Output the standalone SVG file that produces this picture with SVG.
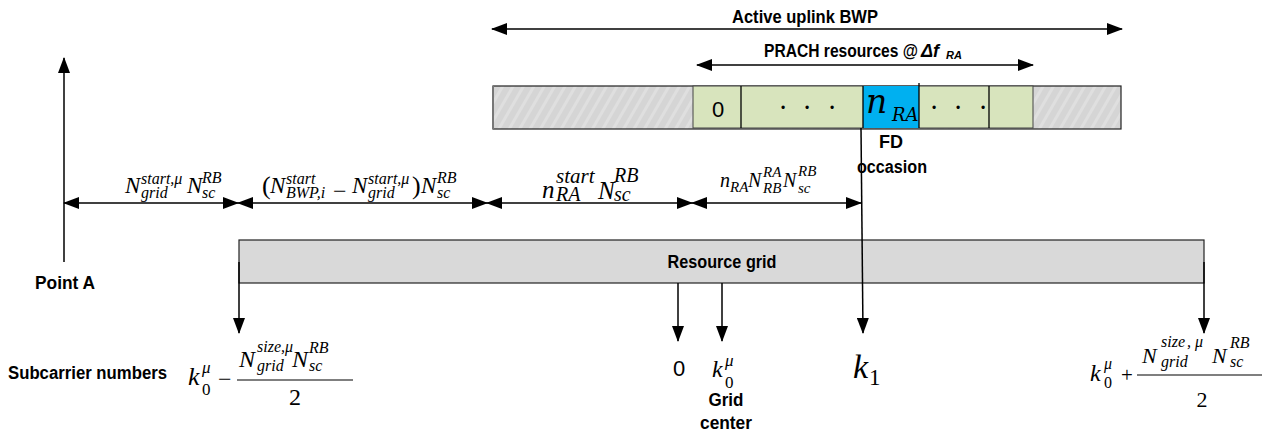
<svg xmlns="http://www.w3.org/2000/svg" width="1273" height="438" viewBox="0 0 1273 438">
<style>
.lbl{font-family:"Liberation Sans",Arial,sans-serif;font-weight:bold;font-size:18px;fill:#000}
.num{font-family:"Liberation Sans",Arial,sans-serif;font-size:22px;fill:#000}
.dot{font-family:"Liberation Sans",Arial,sans-serif;font-size:12px;fill:#000}
.mi{font-family:"Liberation Serif","Times New Roman",serif;font-style:italic;fill:#000}
.mu{font-family:"Liberation Serif","Times New Roman",serif;font-style:normal;fill:#000}
.cm{font-family:"DejaVu Serif",serif;font-style:italic;fill:#000}
.ln{stroke:#000;stroke-width:1.3;fill:none}
.dbl{stroke:#000;stroke-width:1.5;fill:none;marker-start:url(#ah);marker-end:url(#ah)}
.one{stroke:#000;stroke-width:1.5;fill:none;marker-end:url(#ah)}
.frac{stroke:#555;stroke-width:1.5}
</style>
<defs>
<marker id="ah" viewBox="0 0 16 12" refX="15" refY="6" markerWidth="16" markerHeight="12" markerUnits="userSpaceOnUse" orient="auto-start-reverse">
<path d="M0,0 L16,6 L0,12 z" fill="#000"/>
</marker>
<pattern id="hatch" width="9" height="9" patternUnits="userSpaceOnUse" patternTransform="rotate(30)">
<rect width="9" height="9" fill="#d5d5d5"/>
<rect width="3" height="9" fill="#dfdfdf"/>
</pattern>
</defs>

<g id="bwp-bar">
<rect x="493" y="86" width="628" height="43" fill="url(#hatch)" stroke="#222" stroke-width="1.2"/>
<line x1="493" y1="86" x2="493" y2="129" stroke="#777" stroke-width="2"/>
</g>

<g id="prach-resources">
<rect x="693" y="86" width="340" height="42" fill="#d8e4bd" stroke="#444" stroke-width="1"/>
<rect x="863" y="86" width="56" height="42" fill="#00b0f0"/>
<line x1="741" y1="86" x2="741" y2="128" class="ln"/>
<line x1="863" y1="86" x2="863" y2="128" class="ln"/>
<line x1="919" y1="83" x2="919" y2="128" class="ln"/>
<line x1="989" y1="86" x2="989" y2="128" class="ln"/>
<text x="718" y="117" class="num" text-anchor="middle">0</text>
<text class="dot" text-anchor="middle" x="783 807 832" y="112">•••</text>
<text class="dot" text-anchor="middle" x="934 958 983" y="112">•••</text>
<text class="cm"><tspan x="866" y="113" font-size="33">n</tspan><tspan x="892" y="121" font-size="18">RA</tspan></text>
</g>

<g id="resource-grid">
<rect x="239" y="240" width="965" height="43" fill="#d9d9d9" stroke="#222" stroke-width="1.2"/>
<text x="722" y="268" class="lbl" text-anchor="middle" textLength="109" lengthAdjust="spacingAndGlyphs">Resource grid</text>
</g>

<g id="titles">
<text x="805" y="23" class="lbl" text-anchor="middle" textLength="146" lengthAdjust="spacingAndGlyphs">Active uplink BWP</text>
<text class="lbl" y="57"><tspan x="764" textLength="154" lengthAdjust="spacingAndGlyphs">PRACH resources @</tspan><tspan x="921" font-style="italic">Δf</tspan><tspan x="946" y="59" font-size="11" font-style="italic">RA</tspan></text>
<text x="891" y="148" class="lbl" text-anchor="middle" textLength="24" lengthAdjust="spacingAndGlyphs">FD</text>
<text x="892" y="173" class="lbl" text-anchor="middle" textLength="70" lengthAdjust="spacingAndGlyphs">occasion</text>
<text x="35" y="289" class="lbl" textLength="60" lengthAdjust="spacingAndGlyphs">Point A</text>
<text x="8" y="379" class="lbl" textLength="159" lengthAdjust="spacingAndGlyphs">Subcarrier numbers</text>
<text x="726" y="406" class="lbl" text-anchor="middle" textLength="35" lengthAdjust="spacingAndGlyphs">Grid</text>
<text x="726" y="429" class="lbl" text-anchor="middle" textLength="52" lengthAdjust="spacingAndGlyphs">center</text>
</g>

<g id="dim-labels">
<text class="mi" font-size="23"><tspan x="125" y="193">N</tspan><tspan x="141" y="184" font-size="16">start,μ</tspan><tspan x="141" y="198" font-size="16">grid</tspan><tspan x="187" y="193">N</tspan><tspan x="202" y="183" font-size="16">RB</tspan><tspan x="202" y="198" font-size="16">sc</tspan></text>
<text class="mi" font-size="23"><tspan x="262" y="194" class="mu" font-size="26">(</tspan><tspan x="270" y="193">N</tspan><tspan x="286" y="184" font-size="16">start</tspan><tspan x="286" y="198" font-size="16">BWP,i</tspan><tspan x="333" y="199" class="mu" font-size="24">−</tspan><tspan x="352" y="193">N</tspan><tspan x="368" y="184" font-size="16">start,μ</tspan><tspan x="368" y="198" font-size="16">grid</tspan><tspan x="412" y="194" class="mu" font-size="26">)</tspan><tspan x="421" y="193">N</tspan><tspan x="437" y="183" font-size="16">RB</tspan><tspan x="437" y="198" font-size="16">sc</tspan></text>
<text class="mi" font-size="25"><tspan x="542" y="198">n</tspan><tspan x="556" y="183" font-size="21">start</tspan><tspan x="556" y="201" font-size="20">RA</tspan><tspan x="598" y="199">N</tspan><tspan x="614" y="182" font-size="20">RB</tspan><tspan x="614" y="201" font-size="20">sc</tspan></text>
<text class="mi" font-size="20"><tspan x="720" y="187">n</tspan><tspan x="730" y="192" font-size="15">RA</tspan><tspan x="748" y="187">N</tspan><tspan x="763" y="177" font-size="15">RA</tspan><tspan x="763" y="193" font-size="15">RB</tspan><tspan x="783" y="187">N</tspan><tspan x="798" y="176" font-size="15">RB</tspan><tspan x="798" y="193" font-size="15">sc</tspan></text>
</g>

<g id="subcarrier-labels">
<text class="mi" font-size="26"><tspan x="188" y="385">k</tspan><tspan x="202" y="373" font-size="17">μ</tspan><tspan x="202" y="395" font-size="17" class="mu">0</tspan><tspan x="218" y="387" class="mu" font-size="24">−</tspan></text>
<line x1="237" y1="380" x2="353" y2="380" class="frac"/>
<text class="mi" font-size="24"><tspan x="239" y="367">N</tspan><tspan x="257" y="352" font-size="16">size,μ</tspan><tspan x="257" y="371" font-size="16">grid</tspan><tspan x="292" y="367">N</tspan><tspan x="309" y="353" font-size="16">RB</tspan><tspan x="309" y="371" font-size="16">sc</tspan></text>
<text x="295" y="405" class="mu" font-size="24" text-anchor="middle">2</text>

<text x="679" y="376" class="num" text-anchor="middle">0</text>
<text class="mi" font-size="24"><tspan x="712" y="377">k</tspan><tspan x="725" y="366" font-size="17">μ</tspan><tspan x="725" y="388" font-size="17" class="mu">0</tspan></text>
<text class="mi" font-size="34"><tspan x="853" y="378">k</tspan><tspan x="869" y="385" font-size="23" class="mu">1</tspan></text>

<text class="mi" font-size="24"><tspan x="1090" y="381">k</tspan><tspan x="1104" y="369" font-size="16">μ</tspan><tspan x="1104" y="388" font-size="16" class="mu">0</tspan><tspan x="1121" y="382" class="mu" font-size="21">+</tspan></text>
<line x1="1137" y1="375" x2="1262" y2="375" class="frac"/>
<text class="mi" font-size="22"><tspan x="1142" y="363">N</tspan><tspan x="1161" y="347" font-size="16">size</tspan><tspan x="1187" y="347" font-size="16">, μ</tspan><tspan x="1161" y="367" font-size="16">grid</tspan><tspan x="1212" y="363">N</tspan><tspan x="1230" y="348" font-size="16">RB</tspan><tspan x="1230" y="367" font-size="16">sc</tspan></text>
<text x="1202" y="407" class="mu" font-size="22" text-anchor="middle">2</text>
</g>

<g id="connectors">
<line x1="492" y1="29" x2="1122" y2="29" class="dbl"/>
<line x1="697" y1="65" x2="1033" y2="65" class="dbl"/>
<line x1="64" y1="262" x2="64" y2="58" class="one"/>
<line x1="64" y1="203" x2="238" y2="203" class="dbl"/>
<line x1="238" y1="203" x2="487" y2="203" class="dbl"/>
<line x1="487" y1="203" x2="692" y2="203" class="dbl"/>
<line x1="692" y1="203" x2="861" y2="203" class="dbl"/>
<line x1="861" y1="128" x2="863" y2="333" class="one"/>
<line x1="239" y1="262" x2="239" y2="333" class="one"/>
<line x1="678" y1="283" x2="678" y2="341" class="one"/>
<line x1="722" y1="283" x2="722" y2="341" class="one"/>
<line x1="1204" y1="262" x2="1204" y2="333" class="one"/>
</g>
</svg>
